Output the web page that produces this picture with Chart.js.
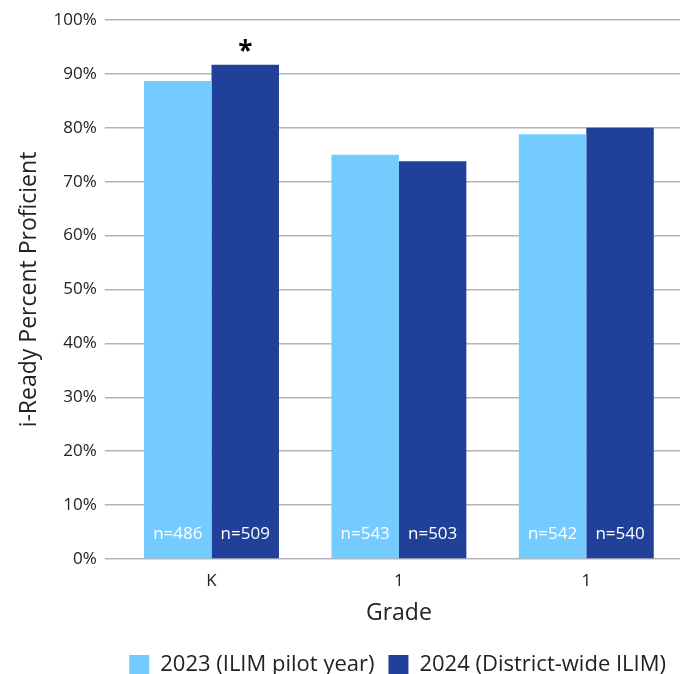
<!DOCTYPE html>
<html>
<head>
<meta charset="utf-8">
<script src="https://cdn.jsdelivr.net/npm/chart.js@4"></script>
<style>
  html, body { margin: 0; padding: 0; background: #fff; }
  #wrap { width: 692px; height: 674px; }
</style>
</head>
<body>
<div id="wrap"><canvas id="chartPlaceholder"></canvas></div>
<script>
const GRADES = ["K", "1", "1"];
const SERIES_NAMES = ["2023 (ILIM pilot year)", "2024 (District-wide ILIM)"];
const VALUES_2023 = [88.7, 75.0, 78.8];
const VALUES_2024 = [91.7, 73.8, 80.0];
const N_2023 = ["n=486", "n=543", "n=542"];
const N_2024 = ["n=509", "n=503", "n=540"];
const STARS_2024 = ["*", "", ""];

const LIGHT = "#73cbff";
const DARK = "#21409a";
const FONT = "'Open Sans', sans-serif";

// white n= labels at the bottom of each bar, plus the asterisk on top
const barLabels = {
  id: "barLabels",
  afterDatasetsDraw(chart) {
    const ctx = chart.ctx;
    const yScale = chart.scales.y;
    const nLabels = [N_2023, N_2024];
    ctx.save();
    ctx.textAlign = "center";
    ctx.textBaseline = "middle";
    chart.data.datasets.forEach((ds, i) => {
      const meta = chart.getDatasetMeta(i);
      meta.data.forEach((bar, j) => {
        ctx.font = "17px " + FONT;
        ctx.fillStyle = "#ffffff";
        ctx.fillText(nLabels[i][j], bar.x, yScale.getPixelForValue(0) - 25);
        if (i === 1 && STARS_2024[j]) {
          ctx.font = "bold 26px " + FONT;
          ctx.fillStyle = "#000000";
          ctx.fillText(STARS_2024[j], bar.x, bar.y - 12);
        }
      });
    });
    ctx.restore();
  },
};

const ctx = document.getElementById("chartPlaceholder").getContext("2d");
new Chart(ctx, {
  type: "bar",
  data: {
    labels: GRADES,
    datasets: [
      { label: SERIES_NAMES[0], data: VALUES_2023, backgroundColor: LIGHT },
      { label: SERIES_NAMES[1], data: VALUES_2024, backgroundColor: DARK },
    ],
  },
  options: {
    responsive: true,
    maintainAspectRatio: false,
    animation: false,
    layout: { padding: { top: 20, right: 12, left: 2, bottom: -12 } },
    datasets: { bar: { categoryPercentage: 0.72, barPercentage: 1.0 } },
    scales: {
      x: {
        grid: { display: false },
        border: { display: false },
        ticks: { color: "#222", font: { family: FONT, size: 17 }, padding: 4 },
        title: {
          display: true,
          text: "Grade",
          color: "#222",
          font: { family: FONT, size: 23 },
          padding: { top: 4, bottom: 13 },
        },
      },
      y: {
        min: 0,
        max: 100,
        border: { display: false },
        grid: { color: "#b4b4b4", lineWidth: 1.5, tickLength: 13 },
        ticks: {
          stepSize: 10,
          color: "#222",
          font: { family: FONT, size: 17 },
          padding: 8,
          callback: (v) => v + "%",
        },
        title: {
          display: true,
          text: "i-Ready Percent Proficient",
          color: "#222",
          font: { family: FONT, size: 23 },
          padding: { top: 14, bottom: 2 },
        },
      },
    },
    plugins: {
      legend: {
        position: "bottom",
        align: "end",
        labels: {
          color: "#222",
          font: { family: FONT, size: 22 },
          boxWidth: 20,
          boxHeight: 20,
          padding: 14,
        },
      },
      tooltip: { enabled: false },
    },
  },
  plugins: [barLabels],
});
</script>
</body>
</html>
